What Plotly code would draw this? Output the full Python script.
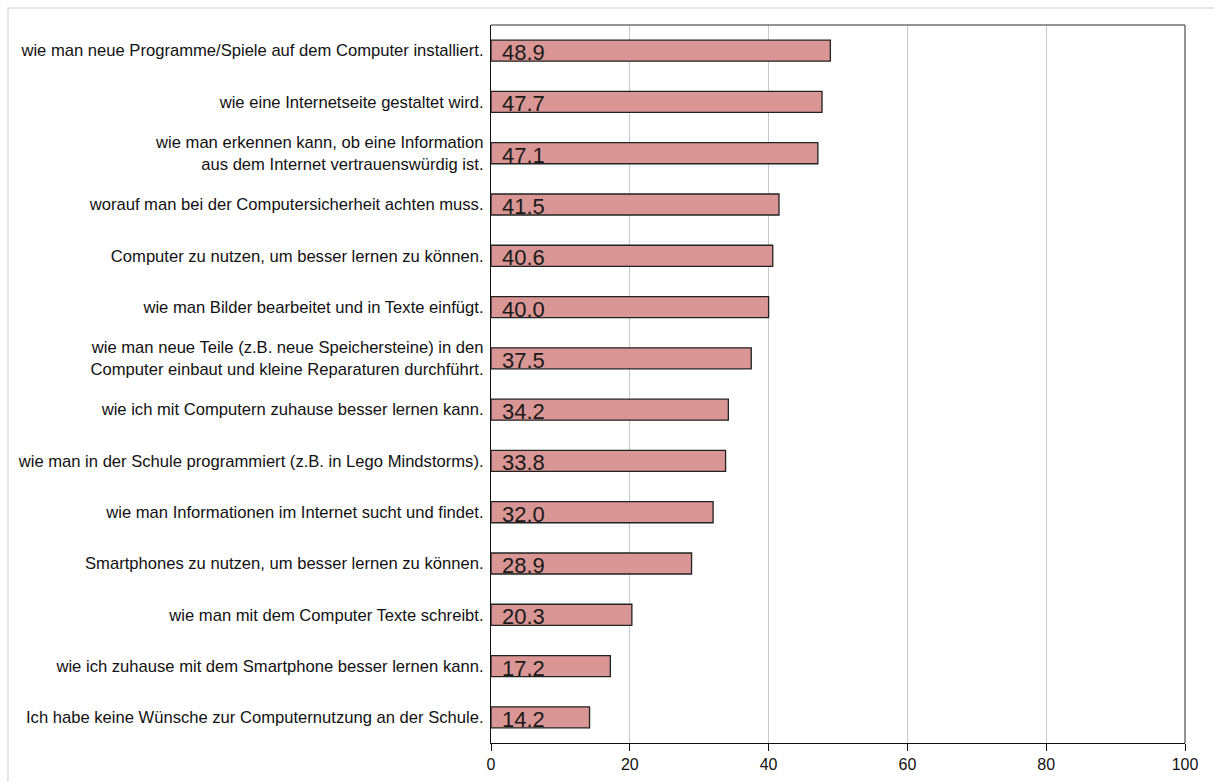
import plotly.graph_objects as go

categories = [
    "wie man neue Programme/Spiele auf dem Computer installiert.",
    "wie eine Internetseite gestaltet wird.",
    "wie man erkennen kann, ob eine Information<br>aus dem Internet vertrauenswürdig ist.",
    "worauf man bei der Computersicherheit achten muss.",
    "Computer zu nutzen, um besser lernen zu können.",
    "wie man Bilder bearbeitet und in Texte einfügt.",
    "wie man neue Teile (z.B. neue Speichersteine) in den<br>Computer einbaut und kleine Reparaturen durchführt.",
    "wie ich mit Computern zuhause besser lernen kann.",
    "wie man in der Schule programmiert (z.B. in Lego Mindstorms).",
    "wie man Informationen im Internet sucht und findet.",
    "Smartphones zu nutzen, um besser lernen zu können.",
    "wie man mit dem Computer Texte schreibt.",
    "wie ich zuhause mit dem Smartphone besser lernen kann.",
    "Ich habe keine Wünsche zur Computernutzung an der Schule.",
]
values = [48.9, 47.7, 47.1, 41.5, 40.6, 40.0, 37.5, 34.2, 33.8, 32.0, 28.9, 20.3, 17.2, 14.2]
x_ticks = [0, 20, 40, 60, 80, 100]

FONT = "Liberation Sans, Arial, sans-serif"

fig = go.Figure(
    go.Bar(
        x=values,
        y=categories,
        orientation="h",
        width=0.41,
        marker=dict(color="#d99694", line=dict(color="#222222", width=1.3)),
        hoverinfo="x+y",
    )
)

# value labels at the left end of each bar
for cat, val in zip(categories, values):
    fig.add_annotation(
        x=0, y=cat, xref="x", yref="y",
        text=f"{val:.1f}", showarrow=False,
        xanchor="left", yanchor="middle", xshift=9, yshift=-2,
        font=dict(family=FONT, size=22, color="#1a1a1a"),
    )

# light frame around the whole chart
fig.add_shape(type="rect", xref="paper", yref="paper",
              x0=-0.696, x1=1.06, y0=-0.08, y1=1.0237,
              line=dict(color="#dedede", width=1.5), fillcolor="rgba(0,0,0,0)", layer="below")
# grey top and right edges of the plot area
fig.add_shape(type="line", xref="paper", yref="paper", x0=0, x1=1, y0=1, y1=1,
              line=dict(color="#707070", width=1.5))
fig.add_shape(type="line", xref="paper", yref="paper", x0=1, x1=1, y0=0, y1=1,
              line=dict(color="#707070", width=1.5))

fig.update_layout(
    width=1214, height=782,
    margin=dict(l=491, r=29, t=25, b=39, autoexpand=False),
    paper_bgcolor="white", plot_bgcolor="white",
    showlegend=False,
    font=dict(family=FONT, color="#111111"),
    xaxis=dict(
        range=[0, 100], tickvals=x_ticks, ticktext=[str(v) for v in x_ticks],
        showgrid=True, gridcolor="#c8c8c8", gridwidth=1,
        showline=True, linecolor="#111111", linewidth=1.3,
        ticks="outside", ticklen=7, tickcolor="#111111", tickwidth=1,
        tickfont=dict(family=FONT, size=16, color="#111111"),
        zeroline=False, fixedrange=True, automargin=False,
    ),
    yaxis=dict(
        autorange="reversed", categoryorder="array", categoryarray=categories,
        showline=True, linecolor="#111111", linewidth=1.3,
        ticks="", ticklabelstandoff=3,
        tickfont=dict(family=FONT, size=16.6, color="#111111"),
        showgrid=False, zeroline=False, fixedrange=True, automargin=False,
    ),
)

fig.write_html("out.html")
